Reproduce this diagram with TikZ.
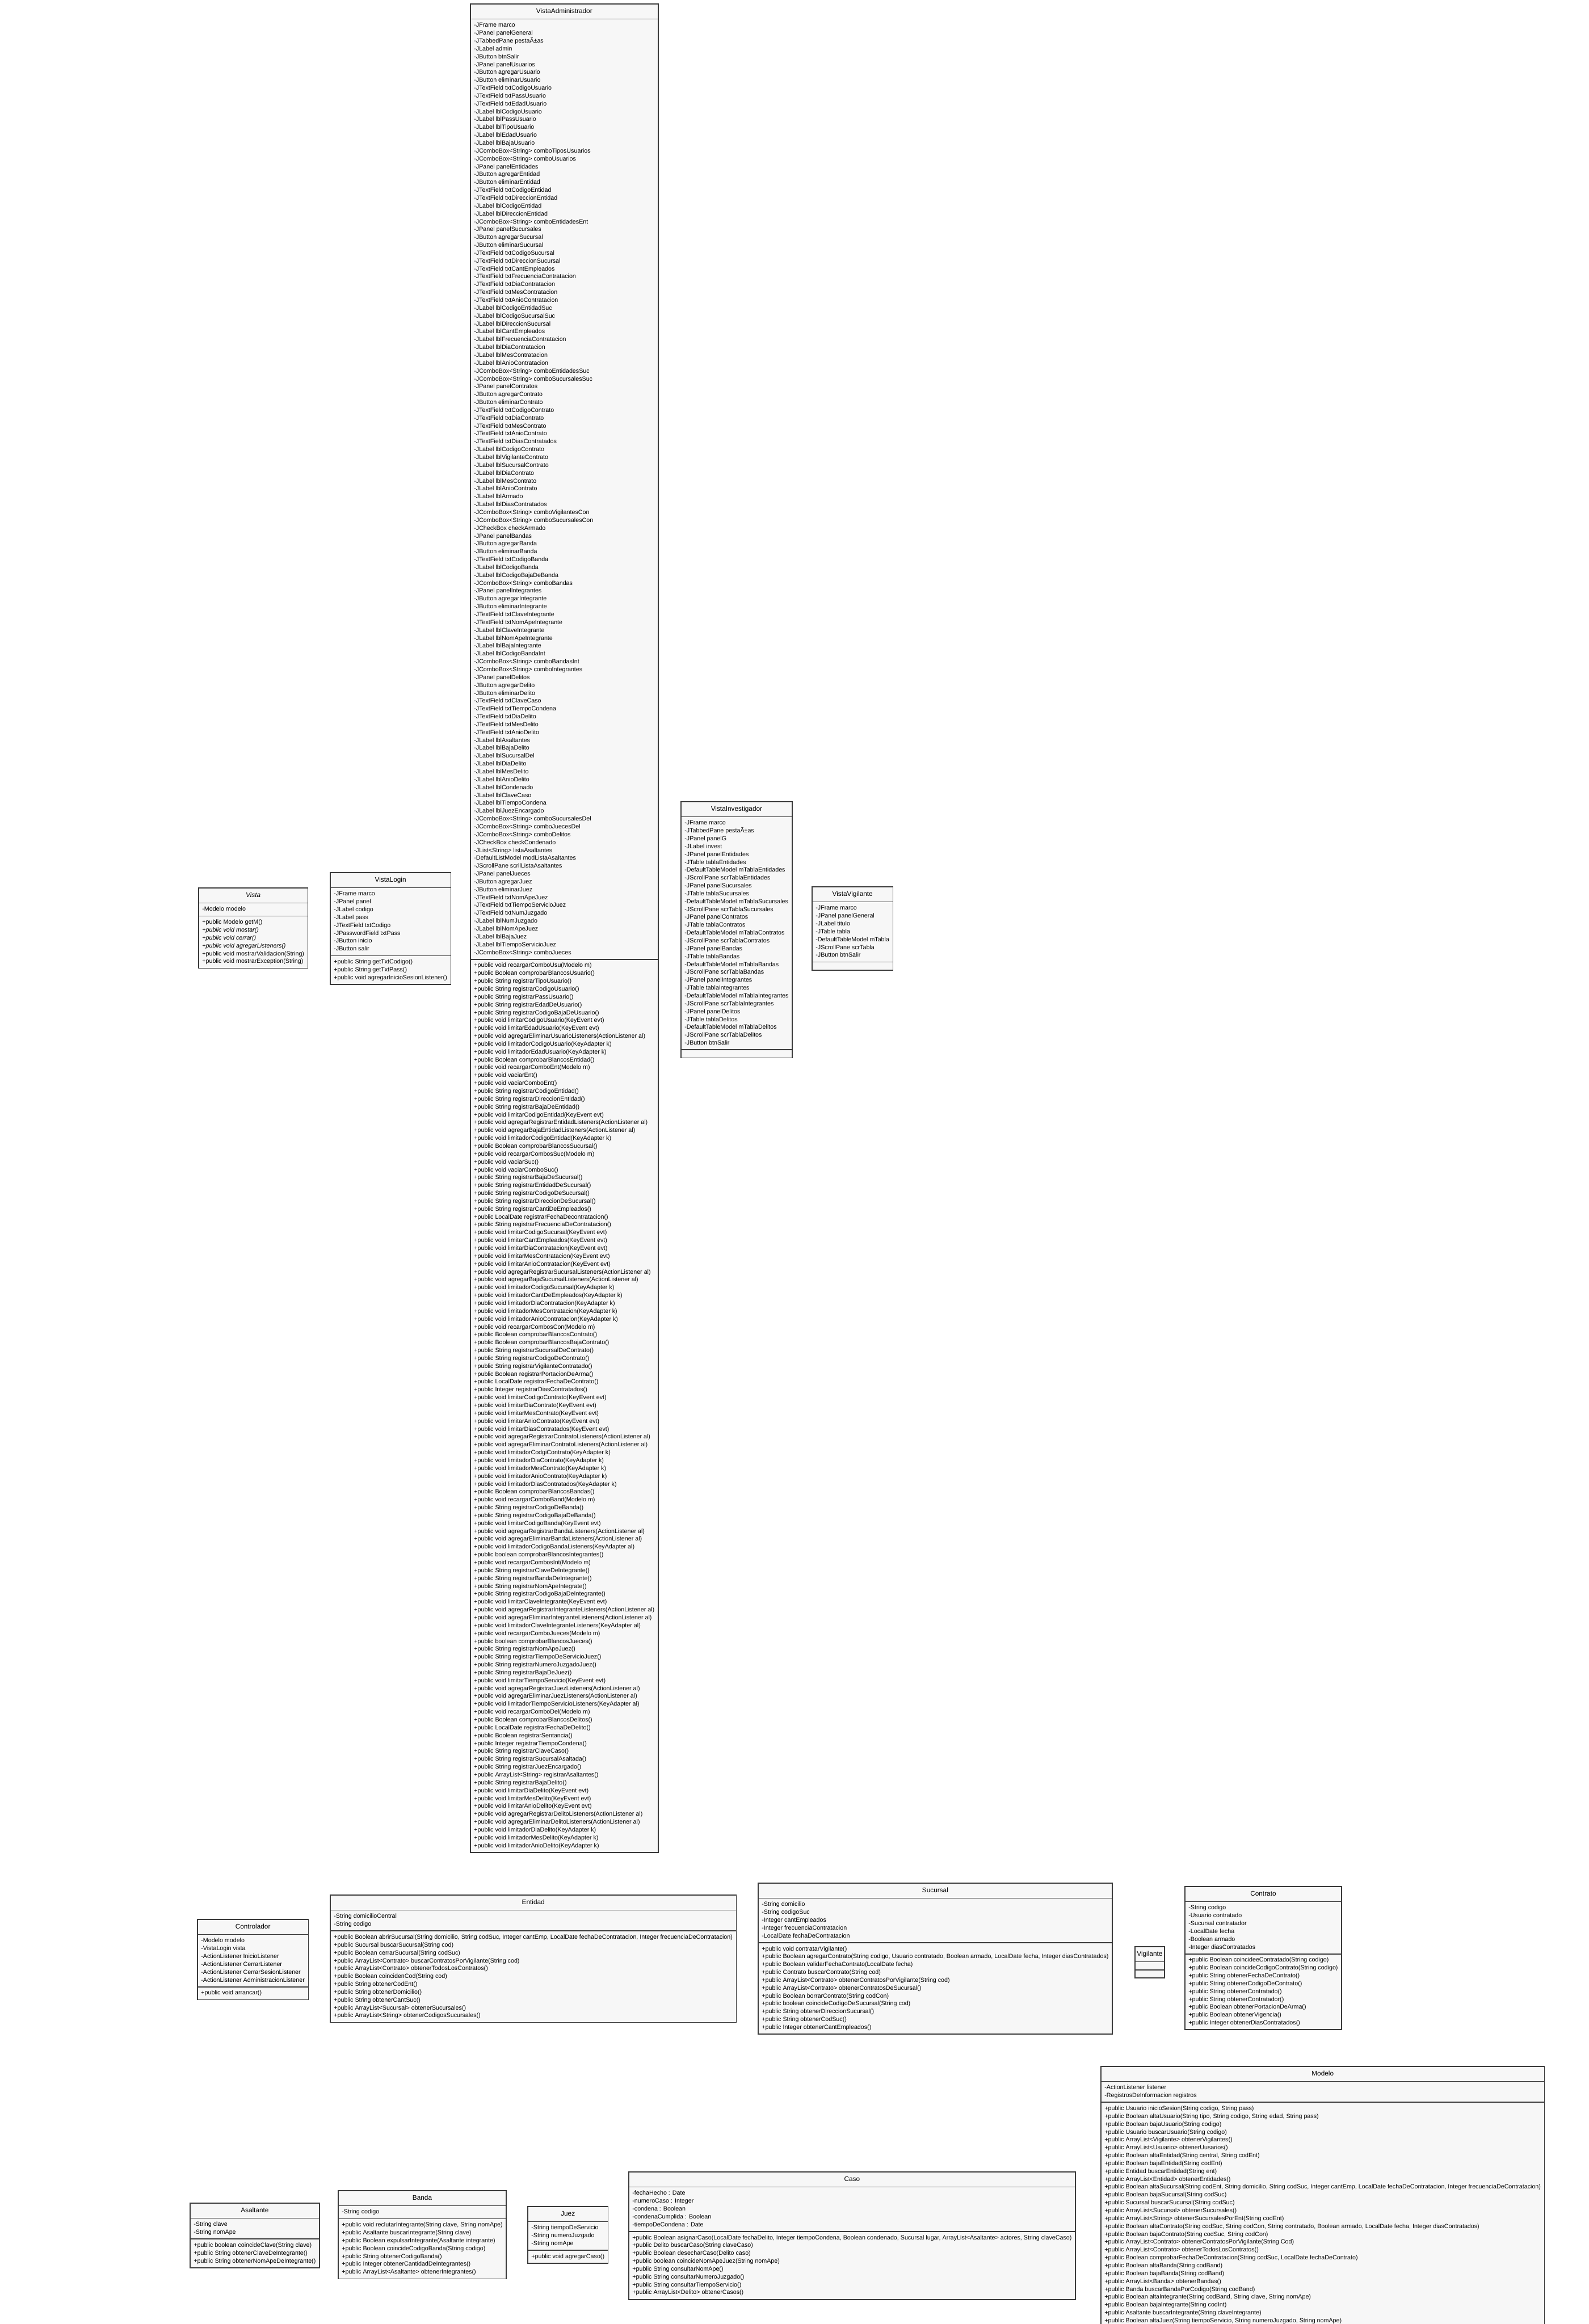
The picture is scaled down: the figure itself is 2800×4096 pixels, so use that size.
\documentclass[tikz,border=0pt]{standalone}
\usepackage{fontspec}
\setmainfont{Liberation Sans}
\usepackage{tikz}
\usetikzlibrary{shapes.multipart}
\definecolor{classfill}{HTML}{F7F7F7}
\definecolor{classline}{HTML}{3A3A3A}
\newcommand{\titlefont}{\fontsize{11.8}{17.7}\selectfont}

\begin{document}
\begin{tikzpicture}[x=1pt, y=-1pt]
\tikzset{classbox/.style={rectangle split, rectangle split parts=3, rectangle split part align={center,left,left}, draw=classline, fill=classfill, line width=1.7pt, inner xsep=6.5pt, inner ysep=3.65pt, anchor=north west, font=\fontsize{10.7}{13.85}\selectfont, rectangle split empty part height=1pt, rectangle split empty part depth=0pt, rectangle split empty part width=1pt}}
\fill[white] (0,0) rectangle (2800,4096);
\path[use as bounding box] (0,0) rectangle (2800,4096);
\clip (0,0) rectangle (2800,4096);

% vistas
\node[classbox] (vadmin) at (828,6) {\titlefont\strut VistaAdministrador\strut
\nodepart{two}\begin{tabular}{@{}l@{}}
-JFrame marco\\
-JPanel panelGeneral\\
-JTabbedPane pestaÃ±as\\
-JLabel admin\\
-JButton btnSalir\\
-JPanel panelUsuarios\\
-JButton agregarUsuario\\
-JButton eliminarUsuario\\
-JTextField txtCodigoUsuario\\
-JTextField txtPassUsuario\\
-JTextField txtEdadUsuario\\
-JLabel lblCodigoUsuario\\
-JLabel lblPassUsuario\\
-JLabel lblTipoUsuario\\
-JLabel lblEdadUsuario\\
-JLabel lblBajaUsuario\\
-JComboBox<String> comboTiposUsuarios\\
-JComboBox<String> comboUsuarios\\
-JPanel panelEntidades\\
-JButton agregarEntidad\\
-JButton eliminarEntidad\\
-JTextField txtCodigoEntidad\\
-JTextField txtDireccionEntidad\\
-JLabel lblCodigoEntidad\\
-JLabel lblDireccionEntidad\\
-JComboBox<String> comboEntidadesEnt\\
-JPanel panelSucursales\\
-JButton agregarSucursal\\
-JButton eliminarSucursal\\
-JTextField txtCodigoSucursal\\
-JTextField txtDireccionSucursal\\
-JTextField txtCantEmpleados\\
-JTextField txtFrecuenciaContratacion\\
-JTextField txtDiaContratacion\\
-JTextField txtMesContratacion\\
-JTextField txtAnioContratacion\\
-JLabel lblCodigoEntidadSuc\\
-JLabel lblCodigoSucursalSuc\\
-JLabel lblDireccionSucursal\\
-JLabel lblCantEmpleados\\
-JLabel lblFrecuenciaContratacion\\
-JLabel lblDiaContratacion\\
-JLabel lblMesContratacion\\
-JLabel lblAnioContratacion\\
-JComboBox<String> comboEntidadesSuc\\
-JComboBox<String> comboSucursalesSuc\\
-JPanel panelContratos\\
-JButton agregarContrato\\
-JButton eliminarContrato\\
-JTextField txtCodigoContrato\\
-JTextField txtDiaContrato\\
-JTextField txtMesContrato\\
-JTextField txtAnioContrato\\
-JTextField txtDiasContratados\\
-JLabel lblCodigoContrato\\
-JLabel lblVigilanteContrato\\
-JLabel lblSucursalContrato\\
-JLabel lblDiaContrato\\
-JLabel lblMesContrato\\
-JLabel lblAnioContrato\\
-JLabel lblArmado\\
-JLabel lblDiasContratados\\
-JComboBox<String> comboVigilantesCon\\
-JComboBox<String> comboSucursalesCon\\
-JCheckBox checkArmado\\
-JPanel panelBandas\\
-JButton agregarBanda\\
-JButton eliminarBanda\\
-JTextField txtCodigoBanda\\
-JLabel lblCodigoBanda\\
-JLabel lblCodigoBajaDeBanda\\
-JComboBox<String> comboBandas\\
-JPanel panelIntegrantes\\
-JButton agregarIntegrante\\
-JButton eliminarIntegrante\\
-JTextField txtClaveIntegrante\\
-JTextField txtNomApeIntegrante\\
-JLabel lblClaveIntegrante\\
-JLabel lblNomApeIntegrante\\
-JLabel lblBajaIntegrante\\
-JLabel lblCodigoBandaInt\\
-JComboBox<String> comboBandasInt\\
-JComboBox<String> comboIntegrantes\\
-JPanel panelDelitos\\
-JButton agregarDelito\\
-JButton eliminarDelito\\
-JTextField txtClaveCaso\\
-JTextField txtTiempoCondena\\
-JTextField txtDiaDelito\\
-JTextField txtMesDelito\\
-JTextField txtAnioDelito\\
-JLabel lblAsaltantes\\
-JLabel lblBajaDelito\\
-JLabel lblSucursalDel\\
-JLabel lblDiaDelito\\
-JLabel lblMesDelito\\
-JLabel lblAnioDelito\\
-JLabel lblCondenado\\
-JLabel lblClaveCaso\\
-JLabel lblTiempoCondena\\
-JLabel lblJuezEncargado\\
-JComboBox<String> comboSucursalesDel\\
-JComboBox<String> comboJuecesDel\\
-JComboBox<String> comboDelitos\\
-JCheckBox checkCondenado\\
-JList<String> listaAsaltantes\\
-DefaultListModel modListaAsaltantes\\
-JScrollPane scrllListaAsaltantes\\
-JPanel panelJueces\\
-JButton agregarJuez\\
-JButton eliminarJuez\\
-JTextField txtNomApeJuez\\
-JTextField txtTiempoServicioJuez\\
-JTextField txtNumJuzgado\\
-JLabel lblNumJuzgado\\
-JLabel lblNomApeJuez\\
-JLabel lblBajaJuez\\
-JLabel lblTiempoServicioJuez\\
-JComboBox<String> comboJueces
\end{tabular}
\nodepart{three}\begin{tabular}{@{}l@{}}
+public void recargarComboUsu(Modelo m)\\
+public Boolean comprobarBlancosUsuario()\\
+public String registrarTipoUsuario()\\
+public String registrarCodigoUsuario()\\
+public String registrarPassUsuario()\\
+public String registrarEdadDeUsuario()\\
+public String registrarCodigoBajaDeUsuario()\\
+public void limitarCodigoUsuario(KeyEvent evt)\\
+public void limitarEdadUsuario(KeyEvent evt)\\
+public void agregarEliminarUsuarioListeners(ActionListener al)\\
+public void limitadorCodigoUsuario(KeyAdapter k)\\
+public void limitadorEdadUsuario(KeyAdapter k)\\
+public Boolean comprobarBlancosEntidad()\\
+public void recargarComboEnt(Modelo m)\\
+public void vaciarEnt()\\
+public void vaciarComboEnt()\\
+public String registrarCodigoEntidad()\\
+public String registrarDireccionEntidad()\\
+public String registrarBajaDeEntidad()\\
+public void limitarCodigoEntidad(KeyEvent evt)\\
+public void agregarRegistrarEntidadListeners(ActionListener al)\\
+public void agregarBajaEntidadListeners(ActionListener al)\\
+public void limitadorCodigoEntidad(KeyAdapter k)\\
+public Boolean comprobarBlancosSucursal()\\
+public void recargarCombosSuc(Modelo m)\\
+public void vaciarSuc()\\
+public void vaciarComboSuc()\\
+public String registrarBajaDeSucursal()\\
+public String registrarEntidadDeSucursal()\\
+public String registrarCodigoDeSucursal()\\
+public String registrarDireccionDeSucursal()\\
+public String registrarCantiDeEmpleados()\\
+public LocalDate registrarFechaDecontratacion()\\
+public String registrarFrecuenciaDeContratacion()\\
+public void limitarCodigoSucursal(KeyEvent evt)\\
+public void limitarCantEmpleados(KeyEvent evt)\\
+public void limitarDiaContratacion(KeyEvent evt)\\
+public void limitarMesContratacion(KeyEvent evt)\\
+public void limitarAnioContratacion(KeyEvent evt)\\
+public void agregarRegistrarSucursalListeners(ActionListener al)\\
+public void agregarBajaSucursalListeners(ActionListener al)\\
+public void limitadorCodigoSucursal(KeyAdapter k)\\
+public void limitadorCantDeEmpleados(KeyAdapter k)\\
+public void limitadorDiaContratacion(KeyAdapter k)\\
+public void limitadorMesContratacion(KeyAdapter k)\\
+public void limitadorAnioContratacion(KeyAdapter k)\\
+public void recargarCombosCon(Modelo m)\\
+public Boolean comprobarBlancosContrato()\\
+public Boolean comprobarBlancosBajaContrato()\\
+public String registrarSucursalDeContrato()\\
+public String registrarCodigoDeContrato()\\
+public String registrarVigilanteContratado()\\
+public Boolean registrarPortacionDeArma()\\
+public LocalDate registrarFechaDeContrato()\\
+public Integer registrarDiasContratados()\\
+public void limitarCodigoContrato(KeyEvent evt)\\
+public void limitarDiaContrato(KeyEvent evt)\\
+public void limitarMesContrato(KeyEvent evt)\\
+public void limitarAnioContrato(KeyEvent evt)\\
+public void limitarDiasContratados(KeyEvent evt)\\
+public void agregarRegistrarContratoListeners(ActionListener al)\\
+public void agregarEliminarContratoListeners(ActionListener al)\\
+public void limitadorCodgiContrato(KeyAdapter k)\\
+public void limitadorDiaContrato(KeyAdapter k)\\
+public void limitadorMesContrato(KeyAdapter k)\\
+public void limitadorAnioContrato(KeyAdapter k)\\
+public void limitadorDiasContratados(KeyAdapter k)\\
+public Boolean comprobarBlancosBandas()\\
+public void recargarComboBand(Modelo m)\\
+public String registrarCodigoDeBanda()\\
+public String registrarCodigoBajaDeBanda()\\
+public void limitarCodigoBanda(KeyEvent evt)\\
+public void agregarRegistrarBandaListeners(ActionListener al)\\
+public void agregarEliminarBandaListeners(ActionListener al)\\
+public void limitadorCodigoBandaListeners(KeyAdapter al)\\
+public boolean comprobarBlancosIntegrantes()\\
+public void recargarCombosInt(Modelo m)\\
+public String registrarClaveDeIntegrante()\\
+public String registrarBandaDeIntegrante()\\
+public String registrarNomApeIntegrate()\\
+public String registrarCodigoBajaDeIntegrante()\\
+public void limitarClaveIntegrante(KeyEvent evt)\\
+public void agregarRegistrarIntegranteListeners(ActionListener al)\\
+public void agregarEliminarIntegranteListeners(ActionListener al)\\
+public void limitadorClaveIntegranteListeners(KeyAdapter al)\\
+public void recargarComboJueces(Modelo m)\\
+public boolean comprobarBlancosJueces()\\
+public String registrarNomApeJuez()\\
+public String registrarTiempoDeServicioJuez()\\
+public String registrarNumeroJuzgadoJuez()\\
+public String registrarBajaDeJuez()\\
+public void limitarTiempoServicio(KeyEvent evt)\\
+public void agregarRegistrarJuezListeners(ActionListener al)\\
+public void agregarEliminarJuezListeners(ActionListener al)\\
+public void limitadorTiempoServicioListeners(KeyAdapter al)\\
+public void recargarComboDel(Modelo m)\\
+public Boolean comprobarBlancosDelitos()\\
+public LocalDate registrarFechaDeDelito()\\
+public Boolean registrarSentancia()\\
+public Integer registrarTiempoCondena()\\
+public String registrarClaveCaso()\\
+public String registrarSucursalAsaltada()\\
+public String registrarJuezEncargado()\\
+public ArrayList<String> registrarAsaltantes()\\
+public String registrarBajaDelito()\\
+public void limitarDiaDelito(KeyEvent evt)\\
+public void limitarMesDelito(KeyEvent evt)\\
+public void limitarAnioDelito(KeyEvent evt)\\
+public void agregarRegistrarDelitoListeners(ActionListener al)\\
+public void agregarEliminarDelitoListeners(ActionListener al)\\
+public void limitadorDiaDelito(KeyAdapter k)\\
+public void limitadorMesDelito(KeyAdapter k)\\
+public void limitadorAnioDelito(KeyAdapter k)
\end{tabular}};

\node[classbox] (vista) at (349,1564) {\titlefont\itshape\strut Vista\strut
\nodepart{two}\begin{tabular}{@{}l@{}}
-Modelo modelo
\end{tabular}
\nodepart{three}\begin{tabular}{@{}l@{}}
+public Modelo getM()\\
\textit{+public void mostar()}\\
\textit{+public void cerrar()}\\
\textit{+public void agregarListeners()}\\
+public void mostrarValidacion(String)\\
+public void mostrarException(String)
\end{tabular}};

\node[classbox] (vlogin) at (581,1537) {\titlefont\strut VistaLogin\strut
\nodepart{two}\begin{tabular}{@{}l@{}}
-JFrame marco\\
-JPanel panel\\
-JLabel codigo\\
-JLabel pass\\
-JTextField txtCodigo\\
-JPasswordField txtPass\\
-JButton inicio\\
-JButton salir
\end{tabular}
\nodepart{three}\begin{tabular}{@{}l@{}}
+public String getTxtCodigo()\\
+public String getTxtPass()\\
+public void agregarInicioSesionListener()
\end{tabular}};

\node[classbox] (vinvest) at (1199,1412) {\titlefont\strut VistaInvestigador\strut
\nodepart{two}\begin{tabular}{@{}l@{}}
-JFrame marco\\
-JTabbedPane pestaÃ±as\\
-JPanel panelG\\
-JLabel invest\\
-JPanel panelEntidades\\
-JTable tablaEntidades\\
-DefaultTableModel mTablaEntidades\\
-JScrollPane scrTablaEntidades\\
-JPanel panelSucursales\\
-JTable tablaSucursales\\
-DefaultTableModel mTablaSucursales\\
-JScrollPane scrTablaSucursales\\
-JPanel panelContratos\\
-JTable tablaContratos\\
-DefaultTableModel mTablaContratos\\
-JScrollPane scrTablaContratos\\
-JPanel panelBandas\\
-JTable tablaBandas\\
-DefaultTableModel mTablaBandas\\
-JScrollPane scrTablaBandas\\
-JPanel panelIntegrantes\\
-JTable tablaIntegrantes\\
-DefaultTableModel mTablaIntegrantes\\
-JScrollPane scrTablaIntegrantes\\
-JPanel panelDelitos\\
-JTable tablaDelitos\\
-DefaultTableModel mTablaDelitos\\
-JScrollPane scrTablaDelitos\\
-JButton btnSalir
\end{tabular}};

\node[classbox] (vvigil) at (1430,1562) {\titlefont\strut VistaVigilante\strut
\nodepart{two}\begin{tabular}{@{}l@{}}
-JFrame marco\\
-JPanel panelGeneral\\
-JLabel titulo\\
-JTable tabla\\
-DefaultTableModel mTabla\\
-JScrollPane scrTabla\\
-JButton btnSalir
\end{tabular}};

% controlador y entidades
\node[classbox] (ctrl) at (347,3382) {\titlefont\strut Controlador\strut
\nodepart{two}\begin{tabular}{@{}l@{}}
-Modelo modelo\\
-VistaLogin vista\\
-ActionListener InicioListener\\
-ActionListener CerrarListener\\
-ActionListener CerrarSesionListener\\
-ActionListener AdministracionListener
\end{tabular}
\nodepart{three}\begin{tabular}{@{}l@{}}
+public void arrancar()
\end{tabular}};

\node[classbox] (entidad) at (581,3339) {\titlefont\strut Entidad\strut
\nodepart{two}\begin{tabular}{@{}l@{}}
-String domicilioCentral\\
-String codigo
\end{tabular}
\nodepart{three}\begin{tabular}{@{}l@{}}
+public Boolean abrirSucursal(String domicilio, String codSuc, Integer cantEmp, LocalDate fechaDeContratacion, Integer frecuenciaDeContratacion)\\
+public Sucursal buscarSucursal(String cod)\\
+public Boolean cerrarSucursal(String codSuc)\\
+public ArrayList<Contrato> buscarContratosPorVigilante(String cod)\\
+public ArrayList<Contrato> obtenerTodosLosContratos()\\
+public Boolean coincidenCod(String cod)\\
+public String obtenerCodEnt()\\
+public String obtenerDomicilio()\\
+public String obtenerCantSuc()\\
+public ArrayList<Sucursal> obtenerSucursales()\\
+public ArrayList<String> obtenerCodigosSucursales()
\end{tabular}};

\node[classbox] (sucursal) at (1335,3318) {\titlefont\strut Sucursal\strut
\nodepart{two}\begin{tabular}{@{}l@{}}
-String domicilio\\
-String codigoSuc\\
-Integer cantEmpleados\\
-Integer frecuenciaContratacion\\
-LocalDate fechaDeContratacion
\end{tabular}
\nodepart{three}\begin{tabular}{@{}l@{}}
+public void contratarVigilante()\\
+public Boolean agregarContrato(String codigo, Usuario contratado, Boolean armado, LocalDate fecha, Integer diasContratados)\\
+public Boolean validarFechaContrato(LocalDate fecha)\\
+public Contrato buscarContrato(String cod)\\
+public ArrayList<Contrato> obtenerContratosPorVigilante(String cod)\\
+public ArrayList<Contrato> obtenerContratosDeSucursal()\\
+public Boolean borrarContrato(String codCon)\\
+public boolean coincideCodigoDeSucursal(String cod)\\
+public String obtenerDireccionSucursal()\\
+public String obtenerCodSuc()\\
+public Integer obtenerCantEmpleados()
\end{tabular}};

\node[classbox, inner xsep=3.5pt] (vigilante) at (1999,3430) {\titlefont\strut Vigilante\strut};

\node[classbox] (contrato) at (2087,3324) {\titlefont\strut Contrato\strut
\nodepart{two}\begin{tabular}{@{}l@{}}
-String codigo\\
-Usuario contratado\\
-Sucursal contratador\\
-LocalDate fecha\\
-Boolean armado\\
-Integer diasContratados
\end{tabular}
\nodepart{three}\begin{tabular}{@{}l@{}}
+public Boolean coincideeContratado(String codigo)\\
+public Boolean coincideCodigoContrato(String codigo)\\
+public String obtenerFechaDeContrato()\\
+public String obtenerCodigoDeContrato()\\
+public String obtenerContratado()\\
+public String obtenerContratador()\\
+public Boolean obtenerPortacionDeArma()\\
+public Boolean obtenerVigencia()\\
+public Integer obtenerDiasContratados()
\end{tabular}};

% delitos
\node[classbox] (asaltante) at (334,3882) {\titlefont\strut Asaltante\strut
\nodepart{two}\begin{tabular}{@{}l@{}}
-String clave\\
-String nomApe
\end{tabular}
\nodepart{three}\begin{tabular}{@{}l@{}}
+public boolean coincideClave(String clave)\\
+public String obtenerClaveDeIntegrante()\\
+public String obtenerNomApeDeIntegrante()
\end{tabular}};

\node[classbox] (banda) at (595,3860) {\titlefont\strut Banda\strut
\nodepart{two}\begin{tabular}{@{}l@{}}
-String codigo
\end{tabular}
\nodepart{three}\begin{tabular}{@{}l@{}}
+public void reclutarIntegrante(String clave, String nomApe)\\
+public Asaltante buscarIntegrante(String clave)\\
+public Boolean expulsarIntegrante(Asaltante integrante)\\
+public Boolean coincideCodigoBanda(String codigo)\\
+public String obtenerCodigoBanda()\\
+public Integer obtenerCantidadDeIntegrantes()\\
+public ArrayList<Asaltante> obtenerIntegrantes()
\end{tabular}};

\node[classbox] (juez) at (929,3888) {\titlefont\strut Juez\strut
\nodepart{two}\begin{tabular}{@{}l@{}}
-String tiempoDeServicio\\
-String numeroJuzgado\\
-String nomApe
\end{tabular}
\nodepart{three}\begin{tabular}{@{}l@{}}
+public void agregarCaso()
\end{tabular}};

\node[classbox] (caso) at (1107,3827) {\titlefont\strut Caso\strut
\nodepart{two}\begin{tabular}{@{}l@{}}
-fechaHecho : Date\\
-numeroCaso : Integer\\
-condena : Boolean\\
-condenaCumplida : Boolean\\
-tiempoDeCondena : Date
\end{tabular}
\nodepart{three}\begin{tabular}{@{}l@{}}
+public Boolean asignarCaso(LocalDate fechaDelito, Integer tiempoCondena, Boolean condenado, Sucursal lugar, ArrayList<Asaltante> actores, String claveCaso)\\
+public Delito buscarCaso(String claveCaso)\\
+public Boolean desecharCaso(Delito caso)\\
+public boolean coincideNomApeJuez(String nomApe)\\
+public String consultarNomApe()\\
+public String consultarNumeroJuzgado()\\
+public String consultarTiempoServicio()\\
+public ArrayList<Delito> obtenerCasos()
\end{tabular}};

\node[classbox] (modelo) at (1939,3641) {\titlefont\strut Modelo\strut
\nodepart{two}\begin{tabular}{@{}l@{}}
-ActionListener listener\\
-RegistrosDeInformacion registros
\end{tabular}
\nodepart{three}\begin{tabular}{@{}l@{}}
+public Usuario inicioSesion(String codigo, String pass)\\
+public Boolean altaUsuario(String tipo, String codigo, String edad, String pass)\\
+public Boolean bajaUsuario(String codigo)\\
+public Usuario buscarUsuario(String codigo)\\
+public ArrayList<Vigilante> obtenerVigilantes()\\
+public ArrayList<Usuario> obtenerUusarios()\\
+public Boolean altaEntidad(String central, String codEnt)\\
+public Boolean bajaEntidad(String codEnt)\\
+public Entidad buscarEntidad(String ent)\\
+public ArrayList<Entidad> obtenerEntidades()\\
+public Boolean altaSucursal(String codEnt, String domicilio, String codSuc, Integer cantEmp, LocalDate fechaDeContratacion, Integer frecuenciaDeContratacion)\\
+public Boolean bajaSucursal(String codSuc)\\
+public Sucursal buscarSucursal(String codSuc)\\
+public ArrayList<Sucursal> obtenerSucursales()\\
+public ArrayList<String> obtenerSucursalesPorEnt(String codEnt)\\
+public Boolean altaContrato(String codSuc, String codCon, String contratado, Boolean armado, LocalDate fecha, Integer diasContratados)\\
+public Boolean bajaContrato(String codSuc, String codCon)\\
+public ArrayList<Contrato> obtenerContratosPorVigilante(String Cod)\\
+public ArrayList<Contrato> obtenerTodosLosContratos()\\
+public Boolean comprobarFechaDeContratacion(String codSuc, LocalDate fechaDeContrato)\\
+public Boolean altaBanda(String codBand)\\
+public Boolean bajaBanda(String codBand)\\
+public ArrayList<Banda> obtenerBandas()\\
+public Banda buscarBandaPorCodigo(String codBand)\\
+public Boolean altaIntegrante(String codBand, String clave, String nomApe)\\
+public Boolean bajaIntegrante(String codInt)\\
+public Asaltante buscarIntegrante(String claveIntegrante)\\
+public Boolean altaJuez(String tiempoServicio, String numeroJuzgado, String nomApe)\\
\mbox{}
\end{tabular}};
\end{tikzpicture}
\end{document}
